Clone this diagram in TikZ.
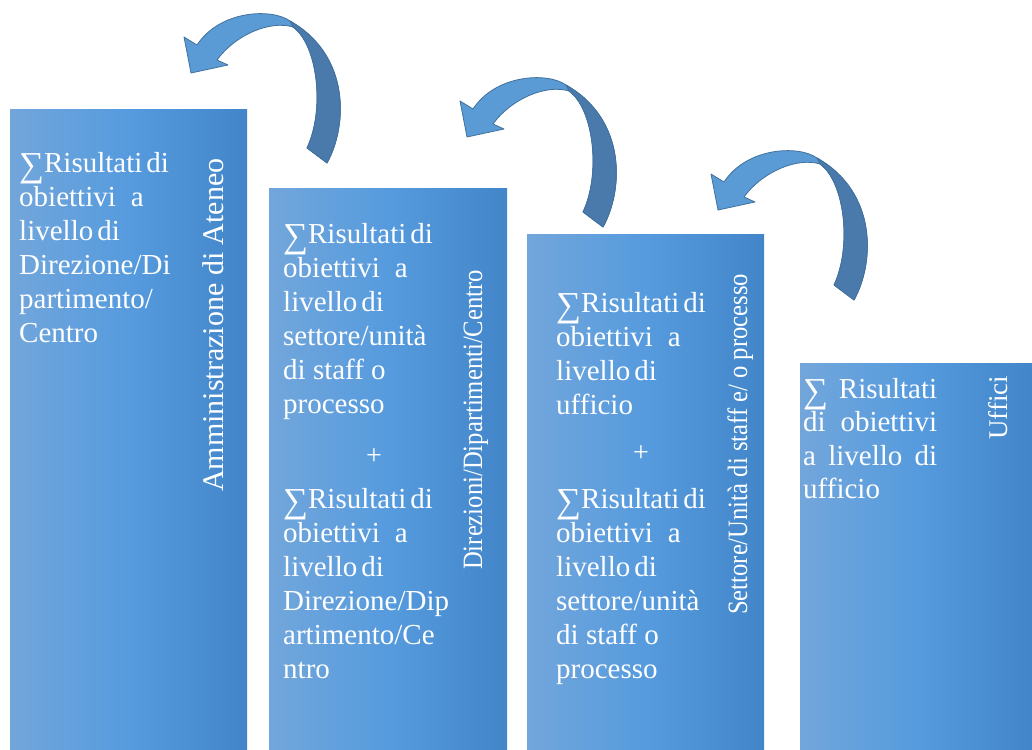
\documentclass[tikz,border=0pt]{standalone}
\usepackage{fontspec}
\setmainfont{Liberation Serif}
\newfontfamily\narrowfont[FakeStretch=0.88]{Liberation Serif}
\usepackage{xcolor}
\usepackage{tikz}
\definecolor{barL}{RGB}{114,166,219}
\definecolor{barM}{RGB}{86,155,222}
\definecolor{barR}{RGB}{66,134,201}
\definecolor{arrowLight}{RGB}{91,155,213}
\definecolor{arrowDark}{RGB}{74,122,172}
\definecolor{arrowLine}{RGB}{65,113,156}
\newcommand{\bigsum}{\raisebox{-4pt}{\fontsize{35}{34}\selectfont ∑}}

\tikzset{
  bar/.style={left color=barL, right color=barR, middle color=barM},
  txt/.style={anchor=base west, inner sep=0pt, text=white, font=\fontsize{29}{34}\selectfont},
  plus/.style={inner sep=0pt, text=white, font=\fontsize{28}{34}\selectfont},
  title/.style={anchor=base west, inner sep=0pt, rotate=90, text=white},
  bentarrow/.pic={
    \filldraw[arrowLine, fill=arrowLight, line width=0.8pt, line join=round]
      (307,148) -- (327,163) .. controls (348,125) and (350,55) .. (290,21)
      .. controls (272,8) and (220,10) .. (197,45) -- (184,37) -- (191,73) -- (228,65) -- (217,60)
      .. controls (235,35) and (270,20) .. (293,27)
      .. controls (318,45) and (325,110) .. (307,148) -- cycle;
    \filldraw[arrowLine, fill=arrowDark, line width=0.8pt, line join=round]
      (307,148) -- (327,163) .. controls (348,125) and (350,55) .. (290,21) -- (293,27)
      .. controls (318,45) and (325,110) .. (307,148) -- cycle;
  }
}

\begin{document}
\begin{tikzpicture}[x=1pt,y=-1pt]
    \useasboundingbox (0,0) rectangle (1032,749);
    % the four bars
    \shade[bar] (10,110) rectangle (247,749);
    \shade[bar] (269,188) rectangle (507,749);
    \shade[bar] (527,234) rectangle (764,749);
    \shade[bar] (800,363) rectangle (1032,749);
    % bent arrows
    \pic (arr1) at (0,0) {bentarrow};
    \pic (arr2) at (276,64) {bentarrow};
    \pic (arr3) at (527,137) {bentarrow};
    % Amministrazione di Ateneo
    \foreach \line [count=\i from 0] in {{\bigsum Risultati\hspace{4pt}di},{obiettivi\hspace{15pt}a},{livello\hspace{4pt}di},{Direzione/Di},{partimento/},{Centro}}
      \node[txt] (amm-\i) at (19,{172+34*\i}) {\line};
    \node[title, font=\fontsize{30}{36}\selectfont] (ateneo) at (223,492) {Amministrazione di Ateneo};
    % Direzioni
    \foreach \line [count=\i from 0] in {{\bigsum Risultati\hspace{4pt}di},{obiettivi\hspace{15pt}a},{livello\hspace{4pt}di},{settore/unità},{di staff o},{processo}}
      \node[txt] (dirA-\i) at (283,{243+34*\i}) {\line};
    \node[plus] (dirplus) at (374,457) {+};
    \foreach \line [count=\i from 0] in {{\bigsum Risultati\hspace{4pt}di},{obiettivi\hspace{15pt}a},{livello\hspace{4pt}di},{Direzione/Dip},{artimento/Ce},{ntro}}
      \node[txt] (dirB-\i) at (283,{508+34*\i}) {\line};
    \node[title, font=\narrowfont\fontsize{28}{34}\selectfont] (direz) at (482,570) {Direzioni/Dipartimenti/Centro};
    % Settore
    \foreach \line [count=\i from 0] in {{\bigsum Risultati\hspace{4pt}di},{obiettivi\hspace{15pt}a},{livello\hspace{4pt}di},{ufficio}}
      \node[txt] (setA-\i) at (556,{312+34*\i}) {\line};
    \node[plus] (setplus) at (641,454) {+};
    \foreach \line [count=\i from 0] in {{\bigsum Risultati\hspace{4pt}di},{obiettivi\hspace{15pt}a},{livello\hspace{4pt}di},{settore/unità},{di staff o},{processo}}
      \node[txt] (setB-\i) at (556,{508+34*\i}) {\line};
    \node[title, font=\narrowfont\fontsize{28}{34}\selectfont] (settore) at (747,615) {Settore/Unità di staff e/ o processo};
    % Uffici
    \foreach \line [count=\i from 0] in {{\makebox[134pt][s]{\bigsum{} Risultati}},{\makebox[134pt][s]{di obiettivi}},{\makebox[134pt][s]{a livello di}},{ufficio}}
      \node[txt] (uff-\i) at (803,{398+33.5*\i}) {\line};
    \node[title, font=\fontsize{27}{32}\selectfont] (uffici) at (1007,440) {Uffici};
\end{tikzpicture}
\end{document}
